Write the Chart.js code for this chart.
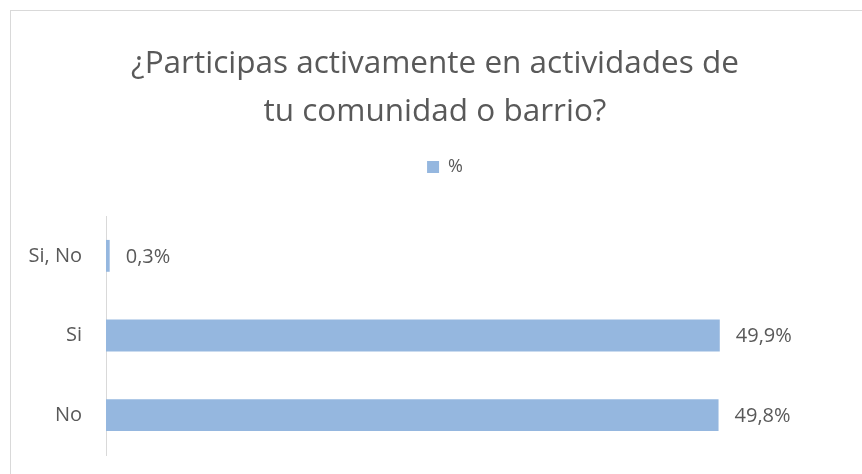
<!DOCTYPE html>
<html>
<head>
<meta charset="utf-8">
<script src="https://cdn.jsdelivr.net/npm/chart.js"></script>
<style>
  html, body { margin: 0; padding: 0; background: #fff; }
  #wrap { position: relative; width: 862px; height: 474px; overflow: hidden; }
  #frame { position: absolute; left: 10px; top: 10px; width: 900px; height: 520px; border: 1px solid #d9d9d9; box-sizing: border-box; }
  canvas { position: absolute; left: 0; top: 0; }
</style>
</head>
<body>
<div id="wrap">
  <div id="frame"></div>
  <canvas id="chart" width="862" height="474"></canvas>
</div>
<script>
// chart data
const categories = ['Si, No', 'Si', 'No'];
const percentValues = [0.3, 49.9, 49.8];
const seriesLabel = '%';
const titleLines = ['¿Participas activamente en actividades de', 'tu comunidad o barrio?'];

const TEXT_COLOR = '#595959';
const BAR_COLOR = '#95b7df';
const FONT = "'Open Sans', sans-serif";

// writes "49,9%" next to each bar
const barValueLabels = {
    id: 'barValueLabels',
    afterDatasetsDraw(chart) {
        const ctx = chart.ctx;
        const meta = chart.getDatasetMeta(0);
        ctx.save();
        ctx.font = `20px ${FONT}`;
        ctx.fillStyle = TEXT_COLOR;
        ctx.textAlign = 'left';
        ctx.textBaseline = 'middle';
        meta.data.forEach((bar, i) => {
            const txt = percentValues[i].toFixed(1).replace('.', ',') + '%';
            ctx.fillText(txt, bar.x + 16, bar.y + 1);
        });
        ctx.restore();
    }
};

// legend sits a little right of the title centre in the original
const legendShift = {
    id: 'legendShift',
    afterLayout(chart) {
        chart.legend.left += 10;
        chart.legend.right += 10;
    }
};

new Chart(document.getElementById('chart'), {
    type: 'bar',
    data: {
        labels: categories,
        datasets: [{
            label: seriesLabel,
            data: percentValues,
            backgroundColor: BAR_COLOR,
            categoryPercentage: 1,
            barPercentage: 0.4
        }]
    },
    options: {
        indexAxis: 'y',
        responsive: false,
        animation: false,
        layout: { padding: { left: 26, right: 18, top: 0, bottom: 19 } },
        plugins: {
            title: {
                display: true,
                text: titleLines,
                color: TEXT_COLOR,
                font: { family: FONT, size: 31.5, weight: 'normal', lineHeight: 1.524 },
                padding: { top: 40, bottom: 12 }
            },
            legend: {
                position: 'top',
                labels: {
                    color: TEXT_COLOR,
                    font: { family: FONT, size: 18 },
                    boxWidth: 12,
                    boxHeight: 12,
                    padding: 10
                }
            },
            tooltip: { enabled: false }
        },
        scales: {
            x: {
                position: 'top',
                min: 0,
                max: 60,
                grid: { display: false },
                border: { display: false },
                ticks: { display: false },
                afterFit(scale) { scale.height = 30; } // blank gap under legend
            },
            y: {
                grid: { display: false },
                border: { display: true, color: '#d9d9d9', width: 1 },
                ticks: { color: TEXT_COLOR, font: { family: FONT, size: 20 }, padding: 16 },
                afterFit(scale) {
                    scale.width = 80;
                    scale.paddingTop = 0;
                    scale.paddingBottom = 0;
                }
            }
        }
    },
    plugins: [barValueLabels, legendShift]
});
</script>
</body>
</html>
